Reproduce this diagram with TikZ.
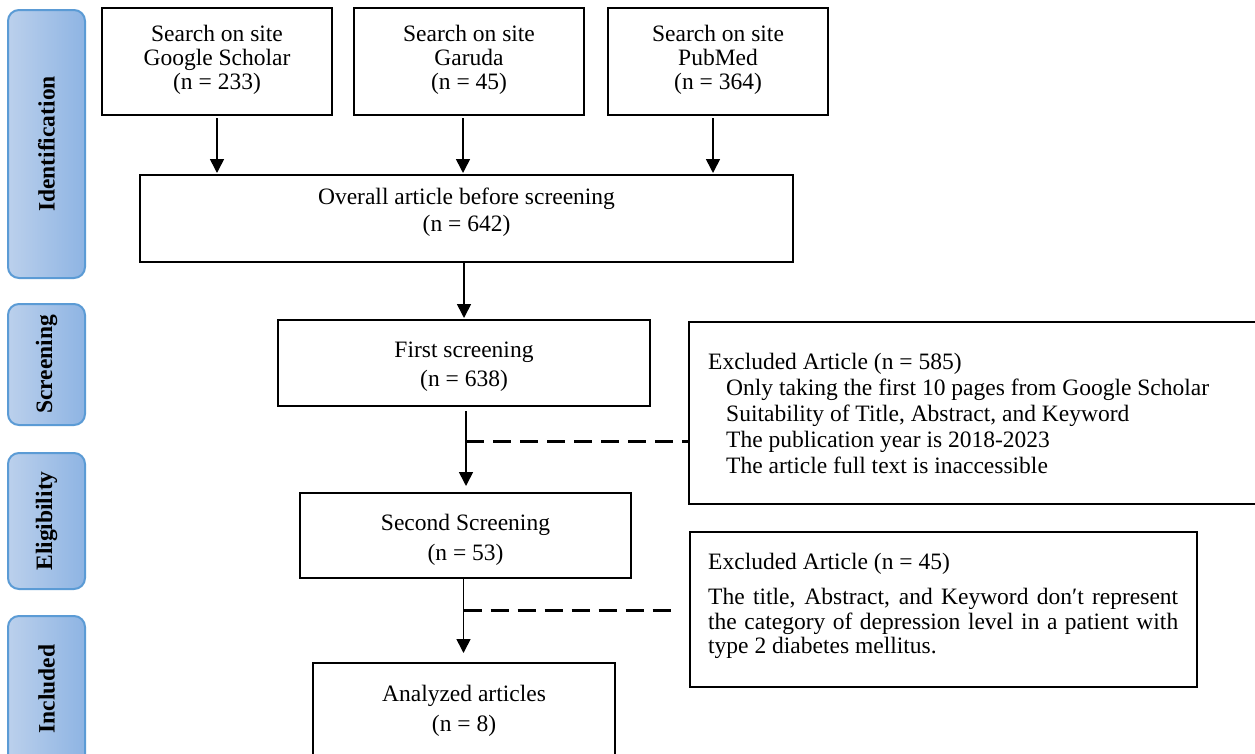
\documentclass[tikz,border=0pt]{standalone}
\usepackage{fontspec}
\setmainfont{Liberation Serif}
\usetikzlibrary{arrows.meta}
\definecolor{barL}{HTML}{BBD0EC}
\definecolor{barR}{HTML}{8EB4E3}
\definecolor{barB}{HTML}{5B9BD5}
\begin{document}
\begin{tikzpicture}[x=1pt,y=-1pt,
  box/.style={draw=black, line width=2.6pt, anchor=north west, inner sep=0pt, outer sep=0pt},
  btxt/.style={align=center, inner sep=0pt, font=\fontsize{23.5}{#1}\selectfont},
  btxt/.default=24,
  bar/.style={draw=barB, line width=2pt, rounded corners=11pt, left color=barL, right color=barR, anchor=north west, inner sep=0pt},
  blab/.style={rotate=90, inner sep=0pt, font=\fontsize{23.5}{24}\selectfont\bfseries},
  arr/.style={line width=1.6pt, -{Triangle[width=14pt,length=14pt]}},
  dsh/.style={line width=3pt, dash pattern=on 18pt off 9pt},
  etxt/.style={anchor=north west, inner sep=0pt, font=\fontsize{23.5}{26}\selectfont}]
\clip (0,0) rectangle (1255,753);
\fill[white] (0,0) rectangle (1255,753);

% phase bars
\node[bar, minimum width=77pt, minimum height=268pt] (b1) at (7,9) {};
\node[blab] (b1t) at (b1.center) {Identification};
\node[bar, minimum width=77pt, minimum height=121pt] (b2) at (7,303) {};
\node[blab] (b2t) at (b2.center) {Screening};
\node[bar, minimum width=77pt, minimum height=136pt] (b3) at (7,452) {};
\node[blab] (b3t) at (b3.center) {Eligibility};
\node[bar, minimum width=77pt, minimum height=150pt] (b4) at (7,615) {};
\node[blab] (b4t) at ([yshift=2pt]b4.center) {Included};

% identification boxes
\node[box, minimum width=230pt, minimum height=107pt] (gs) at (102,8) {};
\node[btxt] (gst) at ([yshift=2pt]gs.center) {Search on site\\Google Scholar\\(n = 233)};
\node[box, minimum width=230pt, minimum height=107pt] (ga) at (354,8) {};
\node[btxt] (gat) at ([yshift=2pt]ga.center) {Search on site\\Garuda\\(n = 45)};
\node[box, minimum width=220pt, minimum height=107pt] (pm) at (608,8) {};
\node[btxt] (pmt) at ([yshift=2pt]pm.center) {Search on site\\PubMed\\(n = 364)};

\node[box, minimum width=653pt, minimum height=87pt] (ov) at (140,175) {};
\node[btxt=27] (ovt) at ([yshift=6pt]ov.center) {Overall article before screening\\(n = 642)};

% screening
\node[box, minimum width=372pt, minimum height=86pt] (fs) at (278,320) {};
\node[btxt=29] (fst) at ([yshift=-4pt]fs.center) {First screening\\(n = 638)};
\node[box, minimum width=331pt, minimum height=85pt] (ss) at (300,493) {};
\node[btxt=30] (sst) at ([yshift=-4pt]ss.center) {Second Screening\\(n = 53)};
\node[box, minimum width=302pt, minimum height=110pt] (an) at (313,663) {};
\node[btxt=30] (ant) at ([yshift=-48pt]an.north) {Analyzed articles\\(n = 8)};

% excluded boxes
\node[box, minimum width=600pt, minimum height=182pt] (ex1) at (689,322) {};
\node[etxt, align=left] (ex1t) at (708,353) {Excluded Article (n = 585)\\
\hspace*{18pt}Only taking the first 10 pages from Google Scholar\\
\hspace*{18pt}Suitability of Title, Abstract, and Keyword\\
\hspace*{18pt}The publication year is 2018-2023\\
\hspace*{18pt}The article full text is inaccessible};

\node[box, minimum width=507pt, minimum height=155pt] (ex2) at (690,532) {};
\node[etxt] (ex2h) at (708,553) {Excluded Article (n = 45)};
\node[etxt, text width=470pt, align=justify, font=\fontsize{23.5}{24.5}\selectfont] (ex2t) at (708,588)
  {The title, Abstract, and Keyword don′t represent the category of depression level in a patient with type 2 diabetes mellitus.};

% arrows
\draw[arr, shorten <=3pt, shorten >=2pt] (gs.south) -- (gs.south |- ov.north);
\draw[arr, shorten <=3pt, shorten >=2pt] ([xshift=-6pt]ga.south) -- ([xshift=-6pt]ga.south |- ov.north);
\draw[arr, shorten <=3pt, shorten >=2pt] ([xshift=-5pt]pm.south) -- ([xshift=-5pt]pm.south |- ov.north);
\draw[arr, shorten <=1pt, shorten >=2pt] (ov.south -| fs.north) -- (fs.north);
\draw[arr, shorten <=5pt, shorten >=7pt] ([xshift=2pt]fs.south) -- ([xshift=2pt]fs.south |- ss.north);
\draw[arr, shorten >=10pt] ([xshift=-2pt]ss.south) -- ([xshift=-2pt]ss.south |- an.north);

% dashed connectors
\coordinate (d1) at ([xshift=2pt]fs.south |- 0,441);
\coordinate (d2) at ([xshift=-2pt]ss.south |- 0,610);
\draw[dsh] (d1) -- (d1 -| ex1.west);
\draw[dsh] (d2) -- ([xshift=-12pt]d2 -| ex2.west);
\end{tikzpicture}
\end{document}
